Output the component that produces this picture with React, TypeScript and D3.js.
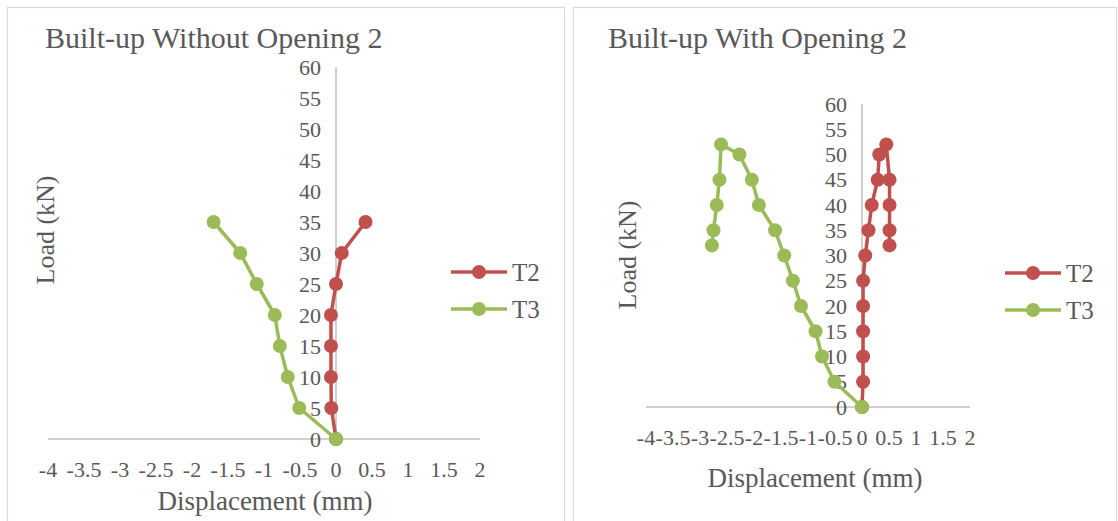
import React from "react";
import * as d3 from "d3";

const xTicks = [-4, -3.5, -3, -2.5, -2, -1.5, -1, -0.5, 0, 0.5, 1, 1.5, 2];
const yTicks = [0, 5, 10, 15, 20, 25, 30, 35, 40, 45, 50, 55, 60];

// Panel 1: Built-up Without Opening 2
const p1T2Disp = [0, -0.065, -0.07, -0.07, -0.07, 0.0, 0.08, 0.41];
const p1T2Load = [0, 5, 10, 15, 20, 25, 30, 35];
const p1T3Disp = [0, -0.51, -0.67, -0.78, -0.85, -1.1, -1.33, -1.7];
const p1T3Load = [0, 5, 10, 15, 20, 25, 30, 35];

// Panel 2: Built-up With Opening 2
const p2T2Disp = [0, 0.02, 0.02, 0.02, 0.02, 0.02, 0.06, 0.12, 0.18, 0.29, 0.32, 0.45, 0.51, 0.51, 0.51, 0.51];
const p2T2Load = [0, 5, 10, 15, 20, 25, 30, 35, 40, 45, 50, 52, 45, 40, 35, 32];
const p2T3Disp = [0, -0.51, -0.74, -0.86, -1.13, -1.28, -1.44, -1.61, -1.91, -2.04, -2.27, -2.61, -2.64, -2.69, -2.75, -2.78];
const p2T3Load = [0, 5, 10, 15, 20, 25, 30, 35, 40, 45, 50, 52, 45, 40, 35, 32];

const seriesNames = ["T2", "T3"];
const colors = ["#C0504D", "#9BBB59"];

const FONT = "Liberation Serif, DejaVu Serif, Times New Roman, serif";
const TEXT = "#595959";

type Pt = { x: number; y: number };
const zip = (xs: number[], ys: number[]): Pt[] => xs.map((x, i) => ({ x, y: ys[i] }));

interface PanelProps {
  box: [number, number, number, number];
  title: string;
  titleX: number;
  xRange: [number, number];
  yRange: [number, number];
  series: Pt[][];
  xLabelY: number;
  xTitle: [number, number];
  yTitle: [number, number];
  legend: [number, number, number];
}

function Panel(p: PanelProps) {
  const x = d3.scaleLinear().domain([-4, 2]).range(p.xRange);
  const y = d3.scaleLinear().domain([0, 60]).range(p.yRange);
  const line = d3
    .line<Pt>()
    .x((d) => x(d.x))
    .y((d) => y(d.y));
  const [bx, by, bw, bh] = p.box;
  const [lx0, lx1, ly] = p.legend;
  const ts = { fontFamily: FONT, fill: TEXT } as React.CSSProperties;
  return (
    <g>
      <rect x={bx} y={by} width={bw} height={bh} fill="#fff" stroke="#d9d9d9" strokeWidth={1.2} />
      <text x={p.titleX} y={48} fontSize={30} style={ts}>
        {p.title}
      </text>
      <line x1={p.xRange[0]} x2={p.xRange[1]} y1={y(0)} y2={y(0)} stroke="#bfbfbf" strokeWidth={1.5} />
      <line x1={x(0)} x2={x(0)} y1={y(0)} y2={y(60)} stroke="#bfbfbf" strokeWidth={1.5} />
      {yTicks.map((t) => (
        <text key={"y" + t} x={x(0) - 15} y={y(t)} dy="0.35em" textAnchor="end" fontSize={22} style={ts}>
          {t}
        </text>
      ))}
      {xTicks.map((t) => (
        <text key={"x" + t} x={x(t)} y={p.xLabelY} dy="0.35em" textAnchor="middle" fontSize={22} style={ts}>
          {t}
        </text>
      ))}
      <text x={p.xTitle[0]} y={p.xTitle[1]} dy="0.35em" textAnchor="middle" fontSize={27} style={ts}>
        Displacement (mm)
      </text>
      <text
        transform={`translate(${p.yTitle[0]},${p.yTitle[1]}) rotate(-90)`}
        dy="0.35em"
        textAnchor="middle"
        fontSize={26}
        style={ts}
      >
        Load (kN)
      </text>
      {p.series.map((s, i) => (
        <g key={"s" + i}>
          <path d={line(s) || ""} fill="none" stroke={colors[i]} strokeWidth={3.5} strokeLinejoin="round" />
          {s.map((d, j) => (
            <circle key={j} cx={x(d.x)} cy={y(d.y)} r={7} fill={colors[i]} />
          ))}
        </g>
      ))}
      {seriesNames.map((n, i) => (
        <g key={"l" + n}>
          <line x1={lx0} x2={lx1} y1={ly + i * 37} y2={ly + i * 37} stroke={colors[i]} strokeWidth={3.5} />
          <circle cx={(lx0 + lx1) / 2} cy={ly + i * 37} r={7} fill={colors[i]} />
          <text x={lx1 + 5} y={ly + i * 37} dy="0.35em" fontSize={25} style={ts}>
            {n}
          </text>
        </g>
      ))}
    </g>
  );
}

export default function App() {
  return (
    <svg width={1118} height={521} style={{ position: "absolute", left: 0, top: 0, background: "#fff" }}>
      <Panel
        box={[7.5, 7.5, 557, 530]}
        title="Built-up Without Opening 2"
        titleX={45}
        xRange={[48, 480]}
        yRange={[439, 67]}
        series={[zip(p1T2Disp, p1T2Load), zip(p1T3Disp, p1T3Load)]}
        xLabelY={469}
        xTitle={[265, 501]}
        yTitle={[45, 230]}
        legend={[451, 507, 272]}
      />
      <Panel
        box={[573.5, 7.5, 543, 530]}
        title="Built-up With Opening 2"
        titleX={608}
        xRange={[646, 970]}
        yRange={[407, 104]}
        series={[zip(p2T2Disp, p2T2Load), zip(p2T3Disp, p2T3Load)]}
        xLabelY={437}
        xTitle={[815, 478]}
        yTitle={[627, 255]}
        legend={[1005, 1061, 273]}
      />
    </svg>
  );
}
